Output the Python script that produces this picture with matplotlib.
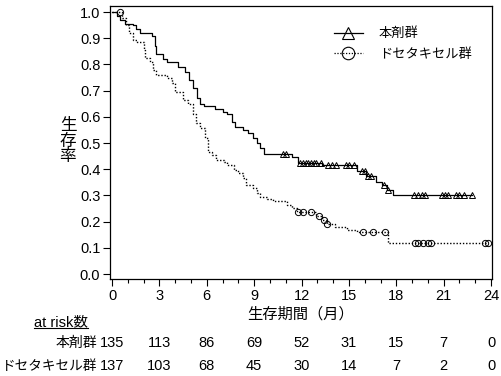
import matplotlib
matplotlib.use('Agg')
import matplotlib.pyplot as plt
import numpy as np
from matplotlib.ticker import MultipleLocator

plt.rcParams['font.family'] = ['Liberation Sans', 'Noto Sans CJK JP']

# 本剤群: event times / survival after each drop
t_a = [0, 0.3, 0.5, 0.8, 1.3, 1.5, 1.8, 2.5, 2.7, 2.8, 3.2, 3.5, 4.2, 4.6, 4.9, 5.1, 5.4, 5.6, 5.8,
       6.5, 7.0, 7.3, 7.6, 7.8, 8.3, 8.6, 8.9, 9.2, 9.4, 9.6, 11.4, 11.8, 13.3, 15.5, 16.1, 16.7,
       17.1, 17.4, 17.8]
s_a = [1.0, 0.985, 0.97, 0.955, 0.95, 0.935, 0.92, 0.91, 0.87, 0.84, 0.82, 0.81, 0.79, 0.77, 0.74,
       0.71, 0.67, 0.65, 0.64, 0.63, 0.62, 0.61, 0.58, 0.56, 0.55, 0.54, 0.52, 0.50, 0.48, 0.46,
       0.445, 0.425, 0.415, 0.395, 0.375, 0.35, 0.34, 0.32, 0.30]
c_a = [10.8, 11.0, 11.9, 12.1, 12.3, 12.4, 12.6, 12.8, 12.9, 13.2, 13.7, 13.9, 14.2, 14.8, 15.0,
       15.3, 15.8, 16.0, 16.2, 16.4, 17.2, 17.5, 19.1, 19.4, 19.6, 19.8, 20.9, 21.1, 21.3, 21.8,
       22.0, 22.3, 22.8]
end_a = 22.8

# ドセタキセル群
t_b = [0, 0.6, 0.9, 1.1, 1.3, 1.6, 2.0, 2.1, 2.4, 2.6, 2.8, 3.5, 3.8, 4.0, 4.5, 4.8, 5.1, 5.3,
       5.6, 5.9, 6.1, 6.3, 6.6, 7.1, 7.3, 7.7, 8.0, 8.3, 8.5, 8.9, 9.2, 9.4, 9.8, 10.2, 11.1, 11.4,
       11.7, 12.9, 13.3, 13.6, 14.1, 14.9, 15.5, 17.5]
s_b = [1.0, 0.977, 0.95, 0.92, 0.893, 0.886, 0.855, 0.824, 0.81, 0.78, 0.76, 0.75, 0.73, 0.695,
       0.664, 0.65, 0.61, 0.576, 0.557, 0.52, 0.466, 0.454, 0.435, 0.427, 0.416, 0.397, 0.385,
       0.366, 0.34, 0.328, 0.309, 0.294, 0.286, 0.279, 0.263, 0.252, 0.237, 0.222, 0.205, 0.19,
       0.18, 0.168, 0.16, 0.12]
c_b = [0.5, 11.8, 12.1, 12.6, 13.1, 13.4, 13.6, 15.9, 16.5, 17.3, 19.2, 19.4, 19.7, 20.0, 20.2,
       23.6, 23.8]
end_b = 23.8

risk_t = [0, 3, 6, 9, 12, 15, 18, 21, 24]
risk_a = [135, 113, 86, 69, 52, 31, 15, 7, 0]
risk_b = [137, 103, 68, 45, 30, 14, 7, 2, 0]
names = ['本剤群', 'ドセタキセル群']


def surv_at(tt, ss, c):
    idx = np.searchsorted(tt, c, side='right') - 1
    return np.array(ss)[idx]


fig = plt.figure(figsize=(5.02, 3.76), dpi=100)
ax = fig.add_axes([110/502, 1-279/376, 382/502, 273/376])

dots = (0, (1, 1.3))
ax.step(t_a + [end_a], s_a + [s_a[-1]], where='post', color='black', lw=0.9)
ax.plot(c_a, surv_at(t_a, s_a, c_a), ls='none', marker='^', ms=5, mfc='none', mec='black', mew=0.7)
ax.step(t_b + [end_b], s_b + [s_b[-1]], where='post', color='black', lw=1.0, ls=dots)
ax.plot(c_b, surv_at(t_b, s_b, c_b), ls='none', marker='o', ms=4.5, mfc='none', mec='black', mew=0.7)

h1, = ax.plot([], [], color='black', lw=0.9, marker='^', ms=9, mfc='none', mec='black', mew=0.8)
h2, = ax.plot([], [], color='black', lw=0.9, ls=dots, marker='o', ms=9, mfc='none', mec='black', mew=0.8)
ax.legend([h1, h2], names, loc='upper left', bbox_to_anchor=(0.555, 0.965), frameon=False,
          handlelength=2.2, handletextpad=1.2, labelspacing=0.6, fontsize=9.5)

ax.set_xlim(-0.13, 24.06)
ax.set_ylim(-0.019, 1.023)
ax.xaxis.set_major_locator(MultipleLocator(3))
ax.xaxis.set_minor_locator(MultipleLocator(1))
ax.yaxis.set_major_locator(MultipleLocator(0.1))
ax.yaxis.set_major_formatter(matplotlib.ticker.FormatStrFormatter('%.1f'))
ax.tick_params(which='major', length=5, width=0.8, labelsize=10.5, pad=2)
ax.tick_params(which='minor', length=3, width=0.8)
for sp in ax.spines.values():
    sp.set_linewidth(0.9)

ax.set_xlabel('生存期間（月）', fontsize=11, labelpad=3)
fig.text(68/502, 1-141/376, '生\n存\n率', ha='center', va='center', fontsize=12, linespacing=1.0)

tr = ax.get_xaxis_transform()
for x, a, b in zip(risk_t, risk_a, risk_b):
    ax.text(x, -0.234, str(a), transform=tr, ha='center', va='center', fontsize=10.5)
    ax.text(x, -0.319, str(b), transform=tr, ha='center', va='center', fontsize=10.5)
lx = 97/502
fig.text(lx, 1-343/376, names[0], ha='right', va='center', fontsize=10)
fig.text(lx, 1-366/376, names[1], ha='right', va='center', fontsize=9.8)
at = fig.text(88/502, 1-322/376, 'at risk数', ha='right', va='center', fontsize=10.5)
fig.canvas.draw()
bb = at.get_window_extent().transformed(fig.transFigure.inverted())
fig.add_artist(plt.Line2D([bb.x0, bb.x1], [bb.y0 + 0.003, bb.y0 + 0.003], color='black', lw=0.8))

fig.savefig('out.png', dpi=100)
